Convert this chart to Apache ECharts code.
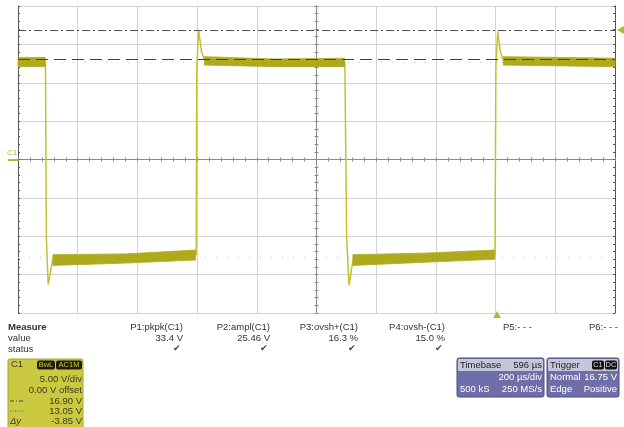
<!DOCTYPE html>
<html>
<head>
<meta charset="utf-8">
<script src="https://cdn.jsdelivr.net/npm/echarts@6/dist/echarts.min.js"></script>
<style>
html,body{margin:0;padding:0;background:#fff;}
#chart{width:624px;height:427px;}
</style>
</head>
<body>
<div id="chart"></div>
<script>
// ---- data (time in µs relative to screen centre, voltage in V) ----
const traceTimeUs = [-1000, -908, -905, -899, -883, -403, -401, -395, -385, -375, 95, 98, 101, 109, 123, 598, 601, 607, 616, 626, 1000];
const traceVolt   = [12.7, 12.7, -10, -16.3, -12.9, -12.4, 12, 16.9, 14.0, 12.9, 12.6, 12.6, -10, -16.4, -12.9, -12.4, 12, 16.7, 14.0, 12.9, 12.6];

const bandTimeUs = [-1000, -909, -896, -883, -640, -405, -390, -375, -140, 94, 110, 122, 360, 597, 612, 626, 1000];
const bandLowV   = [12.1, 12.1, null, -13.8, -13.5, -13.1, null, 12.3, 12.1, 12.1, null, -13.8, -13.4, -13.0, null, 12.3, 12.1];
const bandHighV  = [13.3, 13.3, null, -12.4, -12.3, -11.8, null, 13.4, 13.1, 13.2, null, -12.4, -12.2, -11.8, null, 13.4, 13.2];

const cursorLevels = [16.90, 13.05];
const topBaseLevels = [12.7, -12.7];

const measureNames  = ['P1:pkpk(C1)', 'P2:ampl(C1)', 'P3:ovsh+(C1)', 'P4:ovsh-(C1)', 'P5:- - -', 'P6:- - -'];
const measureValues = ['33.4 V', '25.46 V', '16.3 %', '15.0 %', '', ''];
const measureOk     = [true, true, true, true, false, false];

const channelLines = ['5.00 V/div', '0.00 V offset', '16.90 V', '13.05 V', '-3.85 V'];
const timebaseInfo = ['596 µs', '200 µs/div', '500 kS', '250 MS/s'];
const triggerInfo  = ['Normal', '16.75 V', 'Edge', 'Positive'];

// ---- styles ----
const FONT = '"Liberation Sans", Arial, sans-serif';
const TRACE = '#c4c130';
const BAND = '#aeaa1e';

function txt(x, y, text, o) {
  o = o || {};
  return {
    type: 'text', x: x, y: y, z: 100,
    style: {
      text: text, fill: o.fill || '#333',
      font: (o.weight || 'normal') + ' ' + (o.style || 'normal') + ' ' + (o.size || 9.5) + 'px ' + FONT,
      align: o.align || 'left', textAlign: o.align || 'left',
      verticalAlign: 'middle', textVerticalAlign: 'middle'
    }
  };
}
function rect(x, y, w, h, fill, stroke, r) {
  return { type: 'rect', z: 90, shape: { x: x, y: y, width: w, height: h, r: r || 0 },
           style: { fill: fill, stroke: stroke || null, lineWidth: 1 } };
}
function seg(x1, y1, x2, y2, color, w, dash) {
  return { type: 'line', z: 95, shape: { x1: x1, y1: y1, x2: x2, y2: y2 },
           style: { stroke: color, lineWidth: w || 1, lineDash: dash || null } };
}

const graphics = [];
// measurement table
graphics.push(txt(8, 327, 'Measure', { weight: 'bold' }));
graphics.push(txt(8, 338, 'value'));
graphics.push(txt(8, 349, 'status'));
const measRight = [183, 270, 358, 445, 532, 618];
measureNames.forEach((n, i) => {
  graphics.push(txt(measRight[i], 327, n, { align: 'right' }));
  if (measureValues[i]) graphics.push(txt(measRight[i], 338, measureValues[i], { align: 'right' }));
  if (measureOk[i]) graphics.push(txt(measRight[i] - 2, 349, '✔', { align: 'right', size: 9, fill: '#444' }));
});

// C1 channel box
graphics.push(rect(8, 359, 75, 72, '#cbc93f', '#a8a62c', 2));
graphics.push(txt(11, 364, 'C1', { fill: '#333' }));
graphics.push(rect(37, 360.5, 18, 9, '#1e1e10', null, 2));
graphics.push(txt(46, 365, 'BwL', { align: 'center', size: 7.5, fill: '#cbc93f' }));
graphics.push(rect(56, 360.5, 26, 9, '#1e1e10', null, 2));
graphics.push(txt(69, 365, 'AC1M', { align: 'center', size: 7.5, fill: '#cbc93f' }));
const chY = [379, 390, 401, 411, 421];
channelLines.forEach((s, i) => graphics.push(txt(82, chY[i], s, { align: 'right', fill: '#3a3a20' })));
graphics.push(seg(10, 401, 24, 401, '#444', 1, [4, 2, 1, 2]));
graphics.push(seg(10, 411, 24, 411, '#666', 1, [1, 1.5]));
graphics.push(txt(10, 421, 'Δy', { style: 'italic', fill: '#3a3a20' }));

// Timebase box
graphics.push(rect(457, 358, 87, 39, '#6e6ea8', '#4c4c80', 2));
graphics.push(rect(458, 359, 85, 12, '#c6c6da', null, 1));
graphics.push(txt(460, 365, 'Timebase', { fill: '#222' }));
graphics.push(txt(542, 365, timebaseInfo[0], { align: 'right', fill: '#222' }));
graphics.push(txt(542, 377, timebaseInfo[1], { align: 'right', fill: '#fff' }));
graphics.push(txt(460, 389, timebaseInfo[2], { fill: '#fff' }));
graphics.push(txt(542, 389, timebaseInfo[3], { align: 'right', fill: '#fff' }));

// Trigger box
graphics.push(rect(547, 358, 72, 39, '#6e6ea8', '#4c4c80', 2));
graphics.push(rect(548, 359, 70, 12, '#c6c6da', null, 1));
graphics.push(txt(550, 365, 'Trigger', { fill: '#222' }));
graphics.push(rect(592, 360.5, 12, 9, '#111', null, 2));
graphics.push(txt(598, 365, 'C1', { align: 'center', size: 7.5, fill: '#ddd' }));
graphics.push(rect(605, 360.5, 12, 9, '#111', null, 2));
graphics.push(txt(611, 365, 'DC', { align: 'center', size: 7.5, fill: '#ddd' }));
graphics.push(txt(550, 377, triggerInfo[0], { fill: '#fff' }));
graphics.push(txt(617, 377, triggerInfo[1], { align: 'right', fill: '#fff' }));
graphics.push(txt(550, 389, triggerInfo[2], { fill: '#fff' }));
graphics.push(txt(617, 389, triggerInfo[3], { align: 'right', fill: '#fff' }));

// channel / trigger markers
graphics.push(txt(7, 153, 'C1', { size: 8, fill: '#b8b52e' }));
graphics.push(seg(8, 160, 18, 160, '#b8b52e', 2));
graphics.push({ type: 'polygon', z: 95, shape: { points: [[493, 318], [501, 318], [497, 311]] }, style: { fill: '#b8b52e' } });
graphics.push({ type: 'polygon', z: 95, shape: { points: [[624, 26], [624, 34], [617, 30]] }, style: { fill: '#b8b52e' } });

// ---- noise band segments (split at null breaks) ----
const bandSegments = [];
{
  let cur = [];
  bandTimeUs.forEach((t, i) => {
    if (bandLowV[i] == null) { if (cur.length) bandSegments.push(cur); cur = []; }
    else cur.push(i);
  });
  if (cur.length) bandSegments.push(cur);
}

// ---- chart ----
const chart = echarts.init(document.getElementById('chart'), null, { renderer: 'canvas' });

const gridLine = { show: true, lineStyle: { color: '#d3d3d3', width: 1 } };
function centreAxis(pos, tickLen) {
  return {
    show: true, position: pos,
    axisLine: { show: true, onZero: true, lineStyle: { color: '#8a8a8a', width: 1 } },
    axisTick: { show: true, inside: false, length: tickLen, lineStyle: { color: '#8a8a8a' } },
    minorTick: { show: true, splitNumber: 5, length: tickLen, lineStyle: { color: '#8a8a8a' } },
    axisLabel: { show: false }
  };
}
function borderAxis(pos) {
  return {
    type: 'value', min: -20, max: 20, interval: 5, position: pos, offset: 0,
    axisLine: { show: true, onZero: false, lineStyle: { color: '#555', width: 1 } },
    axisTick: { show: true, inside: true, length: 2, lineStyle: { color: '#555' } },
    minorTick: { show: true, splitNumber: 5, length: 2, lineStyle: { color: '#555' } },
    axisLabel: { show: false }, splitLine: { show: false }
  };
}

const option = {
  animation: false,
  backgroundColor: '#ffffff',
  grid: { left: 18, top: 6, right: 9, bottom: 114, containLabel: false },
  xAxis: [
    Object.assign({ type: 'value', min: -1000, max: 1000, interval: 200, splitLine: gridLine }, centreAxis('bottom', 2)),
    Object.assign({ type: 'value', min: -1000, max: 1000, interval: 200, splitLine: { show: false } }, centreAxis('top', 2))
  ],
  yAxis: [
    Object.assign({ type: 'value', min: -20, max: 20, interval: 5, splitLine: gridLine }, centreAxis('left', 2)),
    Object.assign({ type: 'value', min: -20, max: 20, interval: 5, splitLine: { show: false } }, centreAxis('right', 2)),
    borderAxis('left'),
    borderAxis('right')
  ],
  series: [
    {
      name: 'noise', type: 'custom', silent: true, z: 5,
      xAxisIndex: 0, yAxisIndex: 0,
      data: bandSegments.map((s, k) => [k]),
      encode: { x: -1, y: -1 },
      renderItem: function (params, api) {
        const idx = bandSegments[params.dataIndex];
        const pts = [];
        idx.forEach(i => pts.push(api.coord([bandTimeUs[i], bandHighV[i]])));
        idx.slice().reverse().forEach(i => pts.push(api.coord([bandTimeUs[i], bandLowV[i]])));
        return { type: 'polygon', shape: { points: pts }, style: { fill: BAND, stroke: BAND, lineWidth: 0.8 } };
      }
    },
    {
      name: 'C1', type: 'line', symbol: 'none', silent: true, z: 4,
      lineStyle: { width: 1.5, color: TRACE },
      data: traceTimeUs.map((t, i) => [t, traceVolt[i]]),
      markLine: {
        silent: true, symbol: 'none', label: { show: false }, z: 1,
        data: [
          { yAxis: topBaseLevels[0], lineStyle: { color: '#c4c4c4', width: 1, type: [1, 10] } },
          { yAxis: topBaseLevels[1], lineStyle: { color: '#c4c4c4', width: 1, type: [1, 10] } }
        ]
      }
    },
    {
      name: 'cursors', type: 'line', symbol: 'none', silent: true, z: 8,
      data: [],
      markLine: {
        silent: true, symbol: 'none', label: { show: false }, z: 20,
        data: [
          { yAxis: cursorLevels[0], lineStyle: { color: '#505050', width: 1.2, type: [8, 3, 2, 3] } },
          { yAxis: cursorLevels[1], lineStyle: { color: '#404040', width: 1.2, type: [12, 6] } }
        ]
      }
    }
  ],
  graphic: { elements: graphics }
};
chart.setOption(option);
</script>
</body>
</html>
